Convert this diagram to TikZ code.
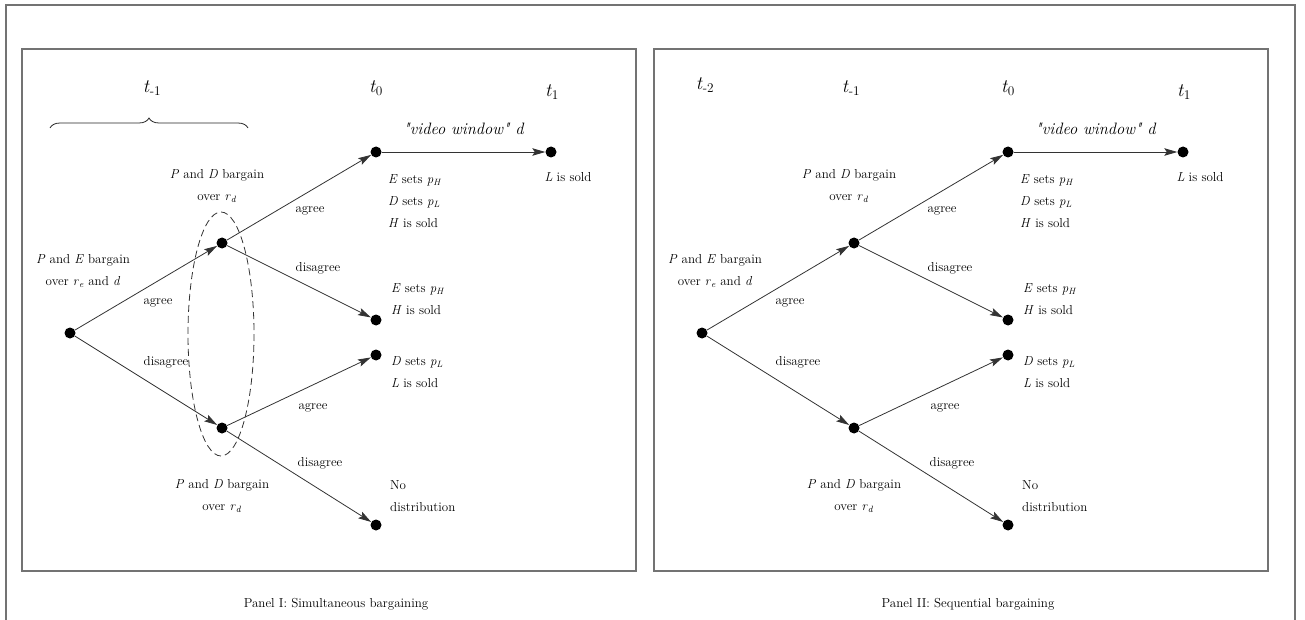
\documentclass[tikz,border=0pt]{standalone}
\usetikzlibrary{arrows.meta, decorations.pathreplacing}

\newcommand{\vi}[1]{\textit{#1}}
\newcommand{\sv}[2]{\textit{#1}\textsubscript{\textit{#2}}}
\newcommand{\tm}[1]{\textit{t}\textsubscript{#1}}

\tikzset{
  dot/.style={circle, fill=black, inner sep=0pt, minimum size=11pt},
  arc/.style={-{Stealth[length=13pt, width=7.5pt, inset=2.5pt]}, line width=0.8pt, draw=black!80},
  lbl/.style={font=\fontsize{13}{22}\selectfont, inner sep=0pt, align=center},
  res/.style={lbl, align=left, anchor=west},
  tlbl/.style={font=\fontsize{19}{20}\selectfont, inner sep=0pt},
  frame/.style={draw=black!55, line width=1.3pt}
}

\begin{document}
\begin{tikzpicture}[x=1pt, y=-1pt]
  \useasboundingbox (0,0) rectangle (1305,620);
  \draw[frame] (6,640) -- (6,5) -- (1295,5) -- (1295,640);

  \foreach \p/\dx/\cap in {a/0/{Panel I: Simultaneous bargaining}, b/632/{Panel II: Sequential bargaining}} {
  \begin{scope}[xshift=\dx]
    \draw[frame] (22,49) rectangle (636,571);
    \node[lbl] (\p cap) at (336,604) {\cap};

    \node[tlbl] (\p t0) at (376,88) {\tm{0}};
    \node[tlbl] (\p t1) at (552,92) {\tm{1}};

    \node[dot] (\p root) at (70,333) {};
    \node[dot] (\p up) at (222,243) {};
    \node[dot] (\p lo) at (222,428) {};
    \node[dot] (\p hl) at (376,152) {};
    \node[dot] (\p l) at (551,152) {};
    \node[dot] (\p h) at (376,320) {};
    \node[dot] (\p dl) at (376,355) {};
    \node[dot] (\p none) at (376,525) {};

    \draw[arc] (\p root) -- (\p up);
    \draw[arc] (\p root) -- (\p lo);
    \draw[arc] (\p up) -- (\p hl);
    \draw[arc] (\p up) -- (\p h);
    \draw[arc] (\p lo) -- (\p dl);
    \draw[arc] (\p lo) -- (\p none);
    \draw[arc] (\p hl) -- node[lbl, above=17pt, font=\fontsize{16.5}{18}\selectfont\itshape] (\p vw) {\textquotedbl video window\textquotedbl\ d} (\p l);

    \node[lbl] (\p ag1) at (158,303) {agree};
    \node[lbl] (\p dis1) at (166,362) {disagree};
    \node[lbl] (\p ag2) at (310,211) {agree};
    \node[lbl] (\p dis2) at (318,268) {disagree};
    \node[lbl] (\p ag3) at (313,408) {agree};
    \node[lbl] (\p dis3) at (320,463) {disagree};

    \node[lbl] (\p pe) at (83,271) {\vi{P} and \vi{E} bargain\\over \sv{r}{e} and \vi{d}};
    \node[lbl] (\p pd1) at (217,186) {\vi{P} and \vi{D} bargain\\over \sv{r}{d}};
    \node[lbl] (\p pd2) at (222,496) {\vi{P} and \vi{D} bargain\\over \sv{r}{d}};
    \node[res] (\p o1) at (388,201) {\vi{E} sets \sv{p}{H}\\\vi{D} sets \sv{p}{L}\\\vi{H} is sold};
    \node[lbl] (\p o2) at (568,177) {\vi{L} is sold};
    \node[res] (\p o3) at (391,299) {\vi{E} sets \sv{p}{H}\\\vi{H} is sold};
    \node[res] (\p o4) at (391,372) {\vi{D} sets \sv{p}{L}\\\vi{L} is sold};
    \node[res] (\p o5) at (390,496) {No\\distribution};
  \end{scope}
  }

  \node[tlbl] (a tm1) at (152,88) {\tm{-1}};
  \draw[decorate, decoration={brace, amplitude=10pt}, line width=0.8pt, black!85] (50,128) -- (248,128);
  \draw[dash pattern=on 7pt off 4pt, line width=0.8pt, black!80] (221,334) ellipse [x radius=33, y radius=122];

  \node[tlbl] (b tm2) at (705,85) {\tm{-2}};
  \node[tlbl] (b tm1) at (851,88) {\tm{-1}};
\end{tikzpicture}
\end{document}
